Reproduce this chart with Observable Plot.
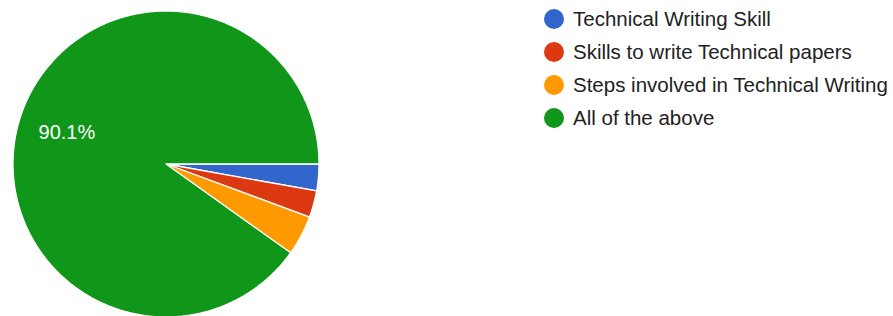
<!DOCTYPE html>
<html>
<head>
<meta charset="utf-8">
<script src="https://cdn.jsdelivr.net/npm/d3@7"></script>
<script src="https://cdn.jsdelivr.net/npm/@observablehq/plot@0.6"></script>
<style>
  html, body { margin: 0; padding: 0; background: #fff; }
  #wrap { position: relative; width: 893px; height: 316px; overflow: hidden; }
  #legend { position: absolute; left: 544px; top: 3px; font-family: "Liberation Sans", Arial, sans-serif; font-size: 20.5px; color: #222; }
  .row { display: flex; align-items: center; height: 32.8px; white-space: nowrap; }
  .sw { width: 20px; height: 20px; border-radius: 50%; margin-right: 9px; flex: none; }
</style>
</head>
<body>
<div id="wrap"><div id="chart"></div><div id="legend"></div></div>
<script>
const categories = ["Technical Writing Skill", "Skills to write Technical papers", "Steps involved in Technical Writing", "All of the above"];
const counts = [2, 2, 3, 64];
const colors = ["#3366cc", "#dc3912", "#ff9900", "#109618"];

const total = d3.sum(counts);
const data = categories.map((c, i) => ({category: c, count: counts[i], color: colors[i]}));
const arcs = d3.pie().sort(null).value(d => d.count).startAngle(Math.PI / 2).endAngle(Math.PI / 2 + 2 * Math.PI)(data);

// polygon outline of each slice (center -> arc -> center)
const pts = [];
for (const a of arcs) {
  const cat = a.data.category;
  pts.push({category: cat, x: 0, y: 0});
  const n = Math.max(2, Math.ceil((a.endAngle - a.startAngle) / (Math.PI / 360)));
  for (let k = 0; k <= n; k++) {
    const t = a.startAngle + (a.endAngle - a.startAngle) * k / n;
    pts.push({category: cat, x: Math.sin(t), y: -Math.cos(t)});
  }
  pts.push({category: cat, x: 0, y: 0});
}

const labels = arcs.filter(a => a.data.count / total > 0.05).map(a => {
  const m = (a.startAngle + a.endAngle) / 2;
  return {x: 0.68 * Math.sin(m), y: -0.68 * Math.cos(m), text: (100 * a.data.count / total).toFixed(1) + "%"};
});

const plot = Plot.plot({
  width: 893,
  height: 316,
  margin: 0,
  x: {domain: [-1, 1], range: [12.5, 318.5], axis: null},
  y: {domain: [-1, 1], range: [10.5, 316.5], axis: null},
  color: {domain: categories, range: colors},
  style: {background: "white"},
  marks: [
    Plot.line(pts, {x: "x", y: "y", z: "category", fill: "category", stroke: "white", strokeWidth: 1.3, strokeLinejoin: "round"}),
    Plot.text(labels, {x: "x", y: "y", text: "text", fill: "white", fontSize: 20, fontFamily: "Liberation Sans, Arial, sans-serif"})
  ]
});
document.getElementById("chart").appendChild(plot);

const legend = document.getElementById("legend");
data.forEach(d => {
  const row = document.createElement("div");
  row.className = "row";
  const sw = document.createElement("span");
  sw.className = "sw";
  sw.style.background = d.color;
  const t = document.createElement("span");
  t.textContent = d.category;
  row.appendChild(sw);
  row.appendChild(t);
  legend.appendChild(row);
});
</script>
</body>
</html>
